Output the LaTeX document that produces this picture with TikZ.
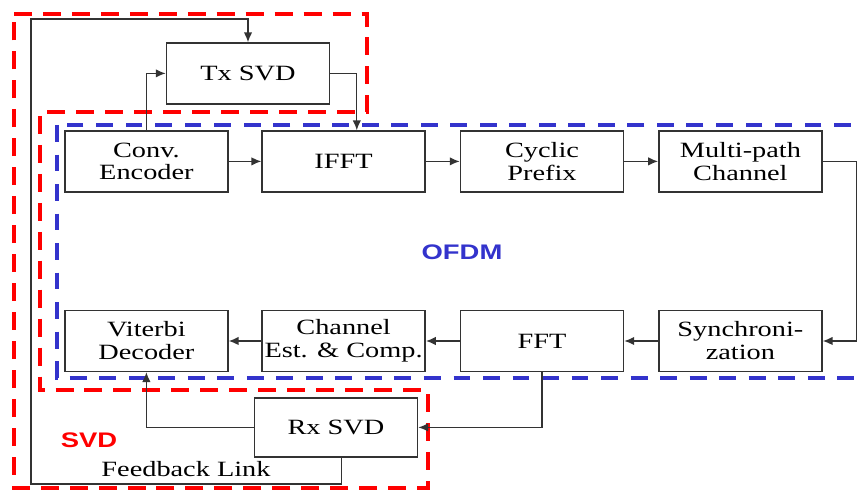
\documentclass[tikz,border=0pt]{standalone}
\usepackage{fontspec}
\setmainfont{Liberation Serif}[FakeStretch=1.3]
\setsansfont{Liberation Sans}[FakeStretch=1.3]
\usepackage{xcolor}
\usepackage{tikz}
\usetikzlibrary{arrows.meta}
\definecolor{svdred}{RGB}{255,0,0}
\definecolor{ofdmblue}{RGB}{51,51,204}

\begin{document}
\begin{tikzpicture}[>={Latex[length=7pt, width=6pt]},
    block/.style={draw=black!80, line width=1.1pt, minimum width=4.08cm,
                  minimum height=1.52cm, inner sep=1pt, align=center,
                  font=\fontsize{15.5}{16.3}\selectfont},
    link/.style={->, black!80, line width=0.9pt},
    svdline/.style={svdred, line width=3.5pt, dash pattern=on 12.8pt off 7.8pt},
    ofdmline/.style={ofdmblue, line width=2.8pt, dash pattern=on 12pt off 9pt}]
  \useasboundingbox (0,0) rectangle (21.475,12.275);
  \clip (0,0) rectangle (21.475,12.275);
  % Zone SVD (rouge)
  \draw[svdline] (0.35,11.925) -- (9.175,11.925) -- (9.175,9.475) -- (1.0,9.475)
      -- (1.0,2.525) -- (10.7,2.525) -- (10.7,0.075) -- (0.35,0.075) -- cycle;
  % Zone OFDM (bleu)
  \draw[ofdmline] (1.425,9.15) rectangle (22,2.825);
  % Chaine d'emission
  \node[block] (conv) at (3.66,8.24) {Conv.\\Encoder};
  \node[block] (ifft) at (8.59,8.24) {IFFT};
  \node[block] (cp)   at (13.55,8.24) {Cyclic\\Prefix};
  \node[block] (chan) at (18.51,8.24) {Multi-path\\Channel};
  % Chaine de reception
  \node[block] (vit)  at (3.66,3.75) {Viterbi\\Decoder};
  \node[block] (est)  at (8.59,3.75) {Channel\\Est. \& Comp.};
  \node[block] (fft)  at (13.55,3.75) {FFT};
  \node[block] (sync) at (18.51,3.75) {Synchroni-\\zation};
  % Blocs SVD
  \node[block] (txsvd) at (6.2,10.44) {Tx SVD};
  \node[block, minimum height=1.48cm] (rxsvd) at (8.4,1.59) {Rx SVD};
  % Liaisons
  \draw[link] (conv.east) -- (ifft.west);
  \draw[link] (ifft.east) -- (cp.west);
  \draw[link] (cp.east) -- (chan.west);
  \draw[link] (chan.east) -- ++(0.85,0) |- (sync.east);
  \draw[link] (sync.west) -- (fft.east);
  \draw[link] (fft.west) -- (est.east);
  \draw[link] (est.west) -- (vit.east);
  \draw[link] (conv.north) |- (txsvd.west);
  \draw[link] (txsvd.east) -| ([xshift=0.33cm]ifft.north);
  \draw[link] (fft.south) |- (rxsvd.east);
  \draw[link] (rxsvd.west) -| (vit.south);
  % Voie de retour
  \coordinate (fbbot) at (0.775,0.175);
  \coordinate (fbtop) at (0.775,11.8);
  \draw[link] ([xshift=0.13cm]rxsvd.south) |- (fbbot) -- (fbtop) -| (txsvd.north);
  % Etiquettes
  \node[font=\sffamily\bfseries\fontsize{15}{18}\selectfont, text=ofdmblue]
      (ofdm) at (11.55,5.975) {OFDM};
  \node[font=\sffamily\bfseries\fontsize{15}{18}\selectfont, text=svdred]
      (svd) at (2.225,1.275) {SVD};
  \node[font=\fontsize{15.5}{18}\selectfont] (fblabel) at (4.65,0.55) {Feedback Link};
\end{tikzpicture}
\end{document}
